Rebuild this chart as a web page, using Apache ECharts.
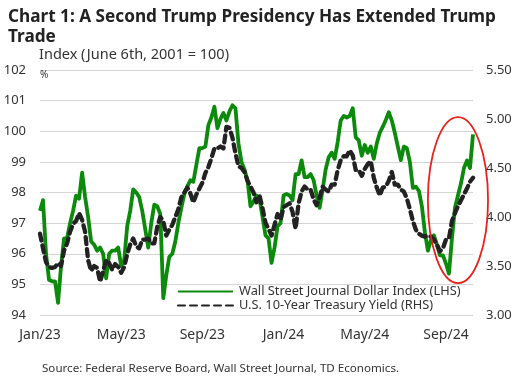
<!DOCTYPE html>
<html><head><meta charset="utf-8">
<script src="https://cdn.jsdelivr.net/npm/echarts@6/dist/echarts.min.js"></script>
<style>html,body{margin:0;padding:0;background:#fff}#c{width:516px;height:385px}</style>
</head><body><div id="c"></div>
<script>
const tickLabels = ['Jan/23', 'May/23', 'Sep/23', 'Jan/24', 'May/24', 'Sep/24'];
const tickIndex = [0, 27, 54, 81, 108, 135];
const leftAxisTicks = [94, 95, 96, 97, 98, 99, 100, 101, 102];
const rightAxisTicks = [3.0, 3.5, 4.0, 4.5, 5.0, 5.5];
const seriesNames = ['Wall Street Journal Dollar Index (LHS)', 'U.S. 10-Year Treasury Yield (RHS)'];

const dollarIndex = [
  97.4, 97.75, 96.0, 95.15, 95.1, 95.1, 94.4, 95.6, 96.5, 96.5, 97.0, 97.4, 97.9, 97.8, 98.65, 97.85, 97.2, 96.4, 96.3, 96.1,
  96.2, 96.0, 95.2, 96.0, 96.1, 96.1, 96.2, 95.6, 95.8, 96.9, 97.4, 98.1, 98.0, 97.85, 97.4, 96.8, 96.2,
  97.0, 97.6, 97.55, 97.3, 94.55, 95.3, 95.9, 96.0, 96.4, 97.0, 97.5, 97.95, 98.2, 98.4, 98.35, 98.9, 99.45, 99.45, 99.5,
  100.2, 100.45, 100.8, 100.1, 100.4, 100.6, 100.35, 100.65, 100.85, 100.75, 99.6, 99.0, 98.75, 98.4, 97.55, 97.7, 97.9, 97.8,
  97.2, 96.6, 96.5, 95.7, 96.2, 96.9, 97.0, 97.9, 97.95, 97.9, 97.75, 98.6, 98.6, 99.05, 98.5, 98.5, 98.6, 98.4, 97.9, 97.5,
  98.1, 98.75, 99.15, 99.3, 99.1, 99.65, 100.35, 100.5, 100.45, 100.5, 100.75, 99.8, 99.7, 99.2, 99.55, 99.3, 99.5,
  99.1, 99.6, 99.95, 100.15, 100.37, 100.62, 100.35, 99.95, 99.5, 99.06, 99.5, 99.45, 99.0, 98.15, 98.19, 98.05, 97.55,
  96.7, 96.1, 96.45, 96.6, 96.3, 95.95, 95.95, 95.68, 95.35, 96.5, 97.5, 97.9, 98.3, 98.8, 99.05, 98.8, 99.9
];
const treasuryYield = [
  3.83, 3.68, 3.54, 3.49, 3.48, 3.49, 3.53, 3.50, 3.66, 3.73, 3.85, 3.93, 3.96, 4.04, 3.97, 3.85, 3.56, 3.45, 3.50, 3.48,
  3.34, 3.45, 3.56, 3.53, 3.46, 3.52, 3.49, 3.43, 3.49, 3.62, 3.72, 3.78, 3.70, 3.68, 3.77, 3.77, 3.78,
  3.73, 3.73, 3.90, 4.00, 3.96, 3.81, 3.87, 3.92, 4.00, 4.08, 4.20, 4.25, 4.30, 4.24, 4.15, 4.23, 4.29, 4.35, 4.45,
  4.51, 4.60, 4.70, 4.70, 4.72, 4.70, 4.92, 4.91, 4.81, 4.65, 4.52, 4.50, 4.46, 4.37, 4.31, 4.25, 4.15, 4.22,
  4.09, 3.94, 3.88, 3.81, 3.92, 4.03, 3.97, 4.10, 4.12, 4.14, 4.05, 3.88, 4.14, 4.26, 4.31, 4.28, 4.28, 4.18, 4.12, 4.20,
  4.31, 4.28, 4.26, 4.33, 4.33, 4.48, 4.58, 4.62, 4.62, 4.68, 4.63, 4.48, 4.48, 4.42, 4.49, 4.54, 4.57,
  4.40, 4.30, 4.22, 4.30, 4.31, 4.37, 4.46, 4.33, 4.33, 4.28, 4.26, 4.19, 4.08, 3.96, 3.87, 3.83, 3.81,
  3.80, 3.81, 3.80, 3.77, 3.72, 3.65, 3.68, 3.77, 3.78, 3.96, 4.04, 4.11, 4.17, 4.23, 4.29, 4.36, 4.40
];
// highlighted region (category index range and left-axis value range)
const highlightIdx = [129, 149];
const highlightVal = [95.04, 100.46];

const categories = dollarIndex.map((_, i) => {
  const t = tickIndex.indexOf(i);
  return t >= 0 ? tickLabels[t] : String(i);
});

const FONT = 'Noto Sans';
const chart = echarts.init(document.getElementById('c'), null, {renderer: 'canvas'});
const option = {
  backgroundColor: '#fff',
  animation: false,
  title: [
    {text: 'Chart 1: A Second Trump Presidency Has Extended Trump\nTrade', left: 8, top: 7, padding: 0,
     textStyle: {fontFamily: FONT, fontWeight: 'bold', fontSize: 17.2, color: '#222', lineHeight: 20}},
    {text: 'Index (June 6th, 2001 = 100)', left: 39, top: 47, padding: 0,
     textStyle: {fontFamily: FONT, fontWeight: 'normal', fontSize: 14.5, color: '#333'}},
    {text: '%', left: 40, top: 70, padding: 0,
     textStyle: {fontFamily: FONT, fontWeight: 'normal', fontSize: 10, color: '#333'}},
    {text: 'Source: Federal Reserve Board, Wall Street Journal, TD Economics.', left: 42, top: 363, padding: 0,
     textStyle: {fontFamily: FONT, fontWeight: 'normal', fontSize: 11.6, color: '#333'}}
  ],
  legend: {
    orient: 'vertical', left: 177, top: 285, padding: 0, itemWidth: 55, itemHeight: 12, itemGap: 1,
    itemStyle: {color: 'transparent', borderColor: 'transparent', borderWidth: 0},
    textStyle: {fontFamily: FONT, fontSize: 12.8, color: '#333', padding: [0, 0, 0, 1]},
    data: seriesNames
  },
  grid: {left: 40, right: 43, top: 70, bottom: 70, containLabel: false},
  xAxis: {
    type: 'category', data: categories, boundaryGap: false,
    axisLine: {show: false}, axisTick: {show: false},
    axisLabel: {interval: 0, formatter: (v) => tickLabels.includes(v) ? v : '',
      fontFamily: FONT, fontSize: 14, color: '#333', margin: 13, hideOverlap: false}
  },
  yAxis: [
    {type: 'value', min: leftAxisTicks[0], max: leftAxisTicks[leftAxisTicks.length - 1], interval: 1,
     axisLine: {show: false}, axisTick: {show: false},
     splitLine: {lineStyle: {color: '#d4d4d4', width: 1}},
     axisLabel: {fontFamily: FONT, fontSize: 13, color: '#333', margin: 14}},
    {type: 'value', min: rightAxisTicks[0], max: rightAxisTicks[rightAxisTicks.length - 1], interval: 0.5,
     axisLine: {show: false}, axisTick: {show: false}, splitLine: {show: false},
     axisLabel: {fontFamily: FONT, fontSize: 13, color: '#333', margin: 13, formatter: (v) => v.toFixed(2)}}
  ],
  series: [
    {name: seriesNames[0], type: 'line', data: dollarIndex, yAxisIndex: 0, symbol: 'none', z: 2,
     lineStyle: {color: '#0b8a0b', width: 3.8, join: 'round'}, itemStyle: {color: '#0b8a0b'}},
    {name: seriesNames[1], type: 'line', data: treasuryYield, yAxisIndex: 1, symbol: 'none', z: 3,
     lineStyle: {color: '#222', width: 4.3, type: [7, 5], cap: 'round', join: 'round'}, itemStyle: {color: '#222'}}
  ]
};
chart.setOption(option);

const p0 = chart.convertToPixel({xAxisIndex: 0, yAxisIndex: 0}, [highlightIdx[0], highlightVal[0]]);
const pc = chart.convertToPixel({xAxisIndex: 0, yAxisIndex: 0}, [Math.round((highlightIdx[0] + highlightIdx[1]) / 2), (highlightVal[0] + highlightVal[1]) / 2]);
const rx = pc[0] - p0[0];
const ry = p0[1] - pc[1];
chart.setOption({
  graphic: [{type: 'ellipse', shape: {cx: pc[0], cy: pc[1], rx: rx, ry: ry}, z: 10,
    style: {fill: 'none', stroke: '#e8221c', lineWidth: 1.8}}]
});
</script></body></html>
